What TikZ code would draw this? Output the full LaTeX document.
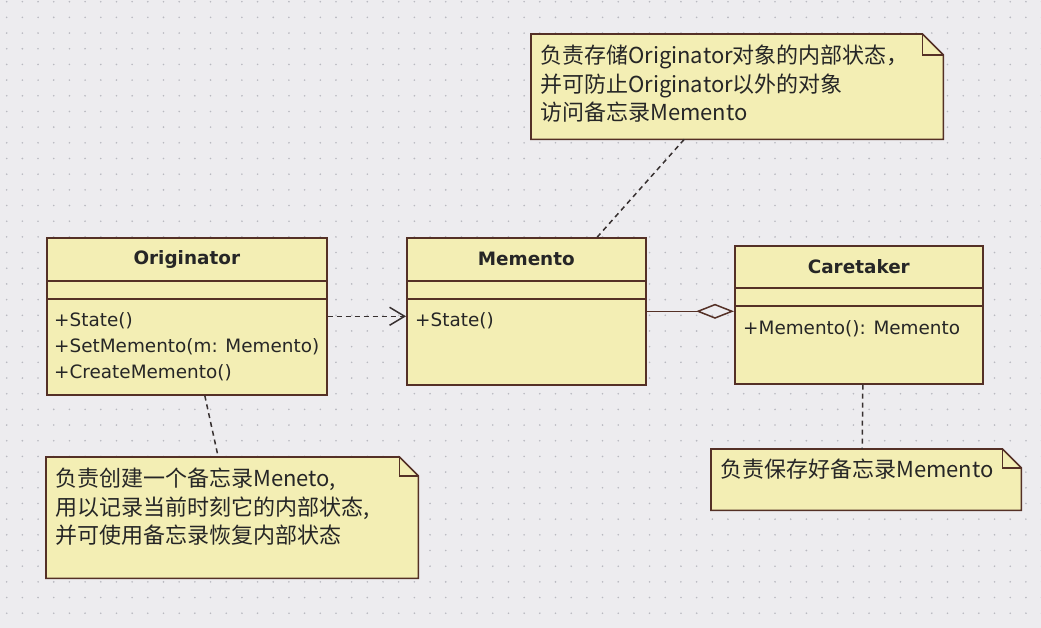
\documentclass[tikz,border=0pt]{standalone}
\usepackage{fontspec}
\setmainfont{DejaVu Sans}
\newfontfamily\cjk{Noto Sans CJK SC}
\usetikzlibrary{positioning,arrows.meta}

\definecolor{bgcol}{RGB}{237,236,239}
\definecolor{dotcol}{RGB}{185,185,192}
\definecolor{boxfill}{RGB}{243,238,180}
\definecolor{boxline}{RGB}{84,48,38}
\definecolor{linkcol}{RGB}{55,48,48}

\tikzset{
  classbox/.style={draw=boxline, fill=boxfill, line width=1.6pt, anchor=north west, inner sep=0pt},
  classname/.style={font=\fontsize{18.4}{22}\selectfont\bfseries, text=black!85},
  classops/.style={font=\fontsize{18.4}{26}\selectfont, align=left, inner sep=0pt, anchor=north west, text=black!85},
  sepline/.style={draw=boxline, line width=1.6pt},
  noteline/.style={draw=boxline, fill=boxfill, line width=1.6pt},
  notetext/.style={font=\cjk\fontsize{22}{28.5}\selectfont, align=left, inner sep=0pt, anchor=north west, text=black!85},
  depend/.style={draw=linkcol, line width=1.5pt, dash pattern=on 5pt off 4pt, -{Straight Barb[length=15pt,width=18pt]}},
  aggreg/.style={draw=boxline, line width=1.5pt, -{Diamond[open,length=38pt,width=15pt]}},
  notelink/.style={draw=linkcol, line width=1.5pt, dash pattern=on 5pt off 4pt}
}

% folded corner of a note: #1 node name, #2 fold size
\newcommand{\drawnote}[2]{
  \filldraw[noteline] (#1.north west) -- ([xshift=-#2]#1.north east) -- ([yshift=-#2]#1.north east)
    -- (#1.south east) -- (#1.south west) -- cycle;
  \draw[noteline, fill=none] ([xshift=-#2]#1.north east) |- ([yshift=-#2]#1.north east);
}

\begin{document}
\begin{tikzpicture}[x=1pt,y=-1pt]

  \fill[bgcol] (0,0) rectangle (1041,628);
  \useasboundingbox (0,0) rectangle (1041,628);

  % dotted grid
  \foreach \i in {0,...,66} {
    \foreach \j in {0,...,40} {
      \fill[dotcol] (6.7+15.68*\i,1.7+15.68*\j) circle (0.9pt);
    }
  }

  % classes
  \node[classbox, minimum width=280pt, minimum height=157pt] (orig) at (46,237) {};
  \node[classname] (origname) at ([yshift=-22pt]orig.north) {Originator};
  \draw[sepline] ([yshift=-44pt]orig.north west) -- ([yshift=-44pt]orig.north east);
  \draw[sepline] ([yshift=-62pt]orig.north west) -- ([yshift=-62pt]orig.north east);
  \node[classops, below right=75.7pt and 8pt of orig.north west] (origops)
    {+State()\\+SetMemento(m: Memento)\\+CreateMemento()};

  \node[classbox, minimum width=239pt, minimum height=147pt] (memento) at (406,237) {};
  \node[classname] (mementoname) at ([yshift=-22pt]memento.north) {Memento};
  \draw[sepline] ([yshift=-44pt]memento.north west) -- ([yshift=-44pt]memento.north east);
  \draw[sepline] ([yshift=-62pt]memento.north west) -- ([yshift=-62pt]memento.north east);
  \node[classops, below right=75.7pt and 9pt of memento.north west] (mementoops) {+State()};

  \node[classbox, minimum width=248pt, minimum height=138pt] (care) at (734,245) {};
  \node[classname] (carename) at ([yshift=-22pt]care.north) {Caretaker};
  \draw[sepline] ([yshift=-43pt]care.north west) -- ([yshift=-43pt]care.north east);
  \draw[sepline] ([yshift=-61pt]care.north west) -- ([yshift=-61pt]care.north east);
  \node[classops, below right=75.7pt and 9pt of care.north west] (careops) {+Memento(): Memento};

  \draw[depend] (orig.east) -- (orig.east -| memento.west);
  \draw[aggreg] (memento.east) -- (memento.east -| care.west);

  % notes
  \node[minimum width=412pt, minimum height=105pt, inner sep=0pt, anchor=north west] (storenote) at (531,34) {};
  \drawnote{storenote}{21pt}
  \node[notetext, below right=11pt and 9pt of storenote.north west] (storetext)
    {负责存储Originator对象的内部状态，\\并可防止Originator以外的对象\\访问备忘录Memento};

  \node[minimum width=372pt, minimum height=121pt, inner sep=0pt, anchor=north west] (makenote) at (46,457) {};
  \drawnote{makenote}{19pt}
  \node[notetext, below right=11pt and 9pt of makenote.north west] (maketext)
    {负责创建一个备忘录Meneto,\\用以记录当前时刻它的内部状态,\\并可使用备忘录恢复内部状态};

  \node[minimum width=310pt, minimum height=61pt, inner sep=0pt, anchor=north west] (carenote) at (711,449) {};
  \drawnote{carenote}{19pt}
  \node[notetext, below right=10pt and 9pt of carenote.north west] (caretext) {负责保存好备忘录Memento};

  \draw[notelink] ([xshift=-53pt]storenote.south) -- ([xshift=71pt]memento.north);
  \draw[notelink] ([xshift=18pt]orig.south) -- ([xshift=-14pt]makenote.north);
  \draw[notelink] ([xshift=4pt]care.south) -- ([xshift=-4pt]carenote.north);

\end{tikzpicture}
\end{document}
